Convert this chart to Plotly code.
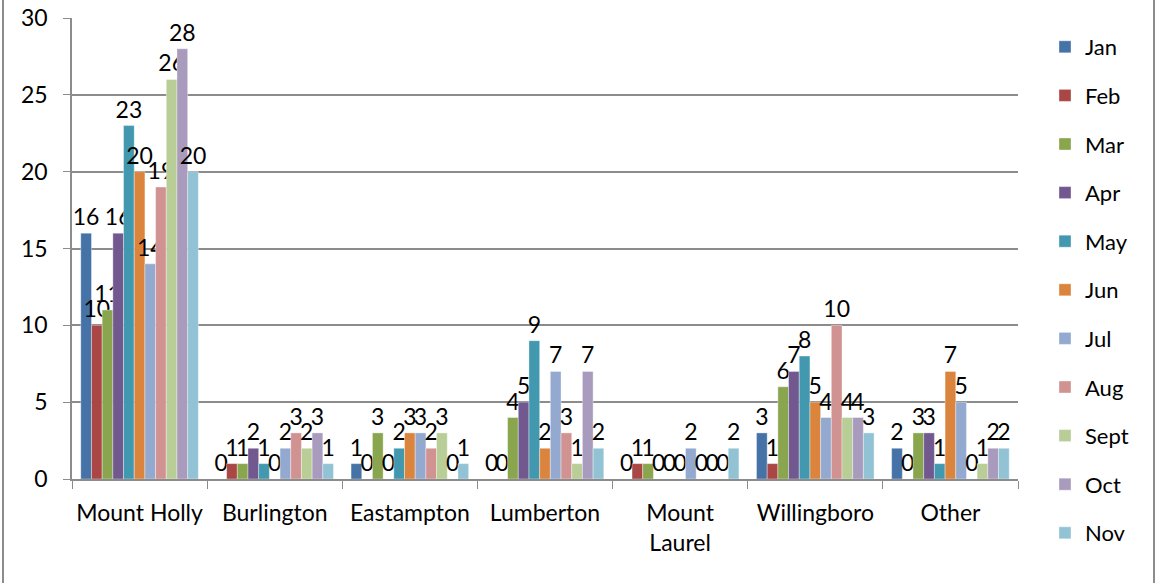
import plotly.graph_objects as go

categories = ["Mount Holly", "Burlington", "Eastampton", "Lumberton", "Mount<br>Laurel", "Willingboro", "Other"]
months = ["Jan", "Feb", "Mar", "Apr", "May", "Jun", "Jul", "Aug", "Sept", "Oct", "Nov"]
# values per month, in the order of categories
jan = [16, 0, 1, 0, 0, 3, 2]
feb = [10, 1, 0, 0, 1, 1, 0]
mar = [11, 1, 3, 4, 1, 6, 3]
apr = [16, 2, 0, 5, 0, 7, 3]
may = [23, 1, 2, 9, 0, 8, 1]
jun = [20, 0, 3, 2, 0, 5, 7]
jul = [14, 2, 3, 7, 2, 4, 5]
aug = [19, 3, 2, 3, 0, 10, 0]
sept = [26, 2, 3, 1, 0, 4, 1]
octo = [28, 3, 0, 7, 0, 4, 2]
nov = [20, 1, 1, 2, 2, 3, 2]
series = [jan, feb, mar, apr, may, jun, jul, aug, sept, octo, nov]
colors = ["#4572A7", "#AA4643", "#89A54E", "#71588F", "#4198AF", "#DB843D",
          "#93A9CF", "#D19392", "#B9CD96", "#A99BBD", "#92C3D5"]
y_ticks = [0, 5, 10, 15, 20, 25, 30]

FONT = "Lato"
FS = 23
fig = go.Figure()
for m, vals, c in zip(months, series, colors):
    fig.add_trace(go.Bar(
        name=m, x=categories, y=vals, marker_color=c,
        marker_line=dict(color="rgba(255,255,255,0.6)", width=0.6),
        text=[str(v) for v in vals], textposition="outside",
        textfont=dict(family=FONT, size=FS, color="black"),
        constraintext="none", cliponaxis=False, legendgroup=m,
    ))

PW, PH = 946, 461
fig.update_layout(
    width=1156, height=583, barmode="group", bargap=0.13, bargroupgap=0,
    plot_bgcolor="white", paper_bgcolor="white",
    margin=dict(l=72, r=138, t=18, b=104, autoexpand=False),
    font=dict(family=FONT, size=FS, color="black"),
    showlegend=True,
    legend=dict(x=(1045 - 72) / PW, y=1 - 8 / PH, xanchor="left", yanchor="top",
                tracegroupgap=17, font=dict(family=FONT, size=22),
                itemwidth=30, bgcolor="rgba(0,0,0,0)", maxheight=570),
    yaxis=dict(range=[0, 30], tickvals=y_ticks, showgrid=True, gridcolor="#8c8c8c",
               gridwidth=1.5, showline=True, linecolor="#8c8c8c", linewidth=1.5,
               ticks="outside", ticklen=7, tickcolor="#8c8c8c", zeroline=False,
               ticklabelstandoff=11, tickfont=dict(family=FONT, size=FS)),
    xaxis=dict(showline=True, linecolor="#8c8c8c", linewidth=1.5, ticks="outside",
               tickson="boundaries", ticklen=8, tickcolor="#8c8c8c", tickangle=0,
               ticklabelstandoff=13, tickfont=dict(family=FONT, size=FS)),
    shapes=[
        dict(type="line", xref="paper", yref="paper",
             x0=(3 - 72) / PW, x1=(3 - 72) / PW, y0=-104 / PH, y1=479 / PH,
             line=dict(color="#8c8c8c", width=2)),
        dict(type="line", xref="paper", yref="paper",
             x0=(1154 - 72) / PW, x1=(1154 - 72) / PW, y0=-104 / PH, y1=479 / PH,
             line=dict(color="#8c8c8c", width=2)),
    ],
)
fig.write_html("out.html", config={"displayModeBar": False},
               post_script="document.body.style.margin='0';")
